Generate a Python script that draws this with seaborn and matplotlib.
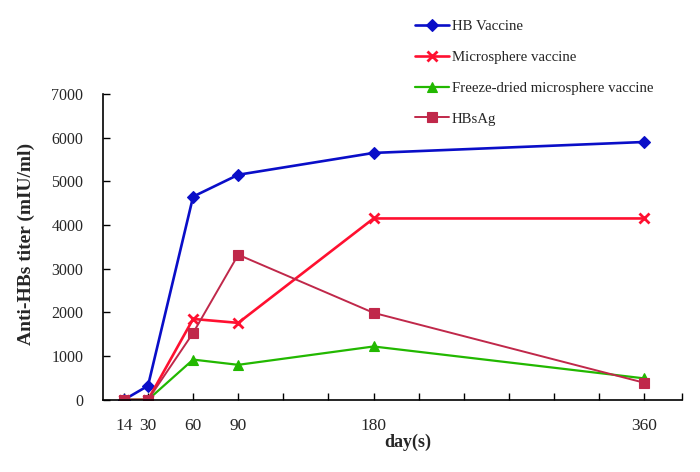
import numpy as np
import pandas as pd
import matplotlib
matplotlib.use("Agg")
import matplotlib.pyplot as plt
import seaborn as sns

# ==============================
# DATA
# ==============================
days = [14, 30, 60, 90, 180, 360]
hb_vaccine = [0, 320, 4650, 5150, 5650, 5900]
microsphere = [0, 0, 1850, 1760, 4150, 4150]
freeze_dried = [0, 0, 920, 800, 1220, 490]
hbsag = [0, 0, 1530, 3320, 1990, 390]

series_names = ["HB Vaccine", "Microsphere vaccine",
                "Freeze-dried microsphere vaccine", "HBsAg"]
series_values = [hb_vaccine, microsphere, freeze_dried, hbsag]
y_ticks = [0, 1000, 2000, 3000, 4000, 5000, 6000, 7000]

colors = ["#0a0ec8", "#ff1030", "#22b800", "#c0284a"]
markers = ["D", "x", "^", "s"]
msizes = [6.5, 7, 7, 7.5]
lwidths = [1.9, 1.9, 1.6, 1.4]

sns.set_theme(style="white")
plt.rcParams["font.family"] = ["Liberation Serif", "DejaVu Serif"]

fig = plt.figure(figsize=(7.0, 4.72), dpi=100)
ax = fig.add_axes([0.147, 0.153, 0.827, 0.648])

for name, vals, c, m, ms, lw in zip(series_names, series_values, colors,
                                    markers, msizes, lwidths):
    df = pd.DataFrame({"day": days, "titer": vals})
    sns.lineplot(data=df, x="day", y="titer", ax=ax, color=c, marker=m,
                 markersize=ms, linewidth=lw, label=name,
                 markeredgecolor=c, markeredgewidth=2 if m == "x" else 0.8)

ax.set_xlim(0, 385)
ax.set_ylim(0, 7000)
ax.set_xticks(days)
ax.set_xticklabels([str(d) for d in days], fontsize=12.5)
ax.set_xticks([120, 150, 210, 240, 270, 300, 330, 385], minor=True)
ax.set_yticks(y_ticks)
ax.set_yticklabels([str(v) for v in y_ticks], fontsize=11.5)
ax.tick_params(axis="both", which="both", direction="in", length=5,
               width=1, color="black", left=True, bottom=True)
ax.tick_params(axis="y", pad=14)
ax.tick_params(axis="x", pad=13)

for side in ["top", "right"]:
    ax.spines[side].set_visible(False)
for side in ["left", "bottom"]:
    ax.spines[side].set_color("black")
    ax.spines[side].set_linewidth(1.2)

ax.set_xlabel("day(s)", fontsize=13, fontweight="bold")
ax.xaxis.set_label_coords(0.527, -0.11)
ax.set_ylabel("Anti-HBs titer (mIU/ml)", fontsize=14, fontweight="bold")
ax.yaxis.set_label_coords(-0.118, 0.51)

ax.legend(loc="upper left", bbox_to_anchor=(0.528, 1.262), frameon=False,
          fontsize=10.7, handlelength=2.3, labelspacing=1.17,
          handletextpad=0.2, borderaxespad=0)

fig.savefig("out.png", dpi=100, facecolor="white")
